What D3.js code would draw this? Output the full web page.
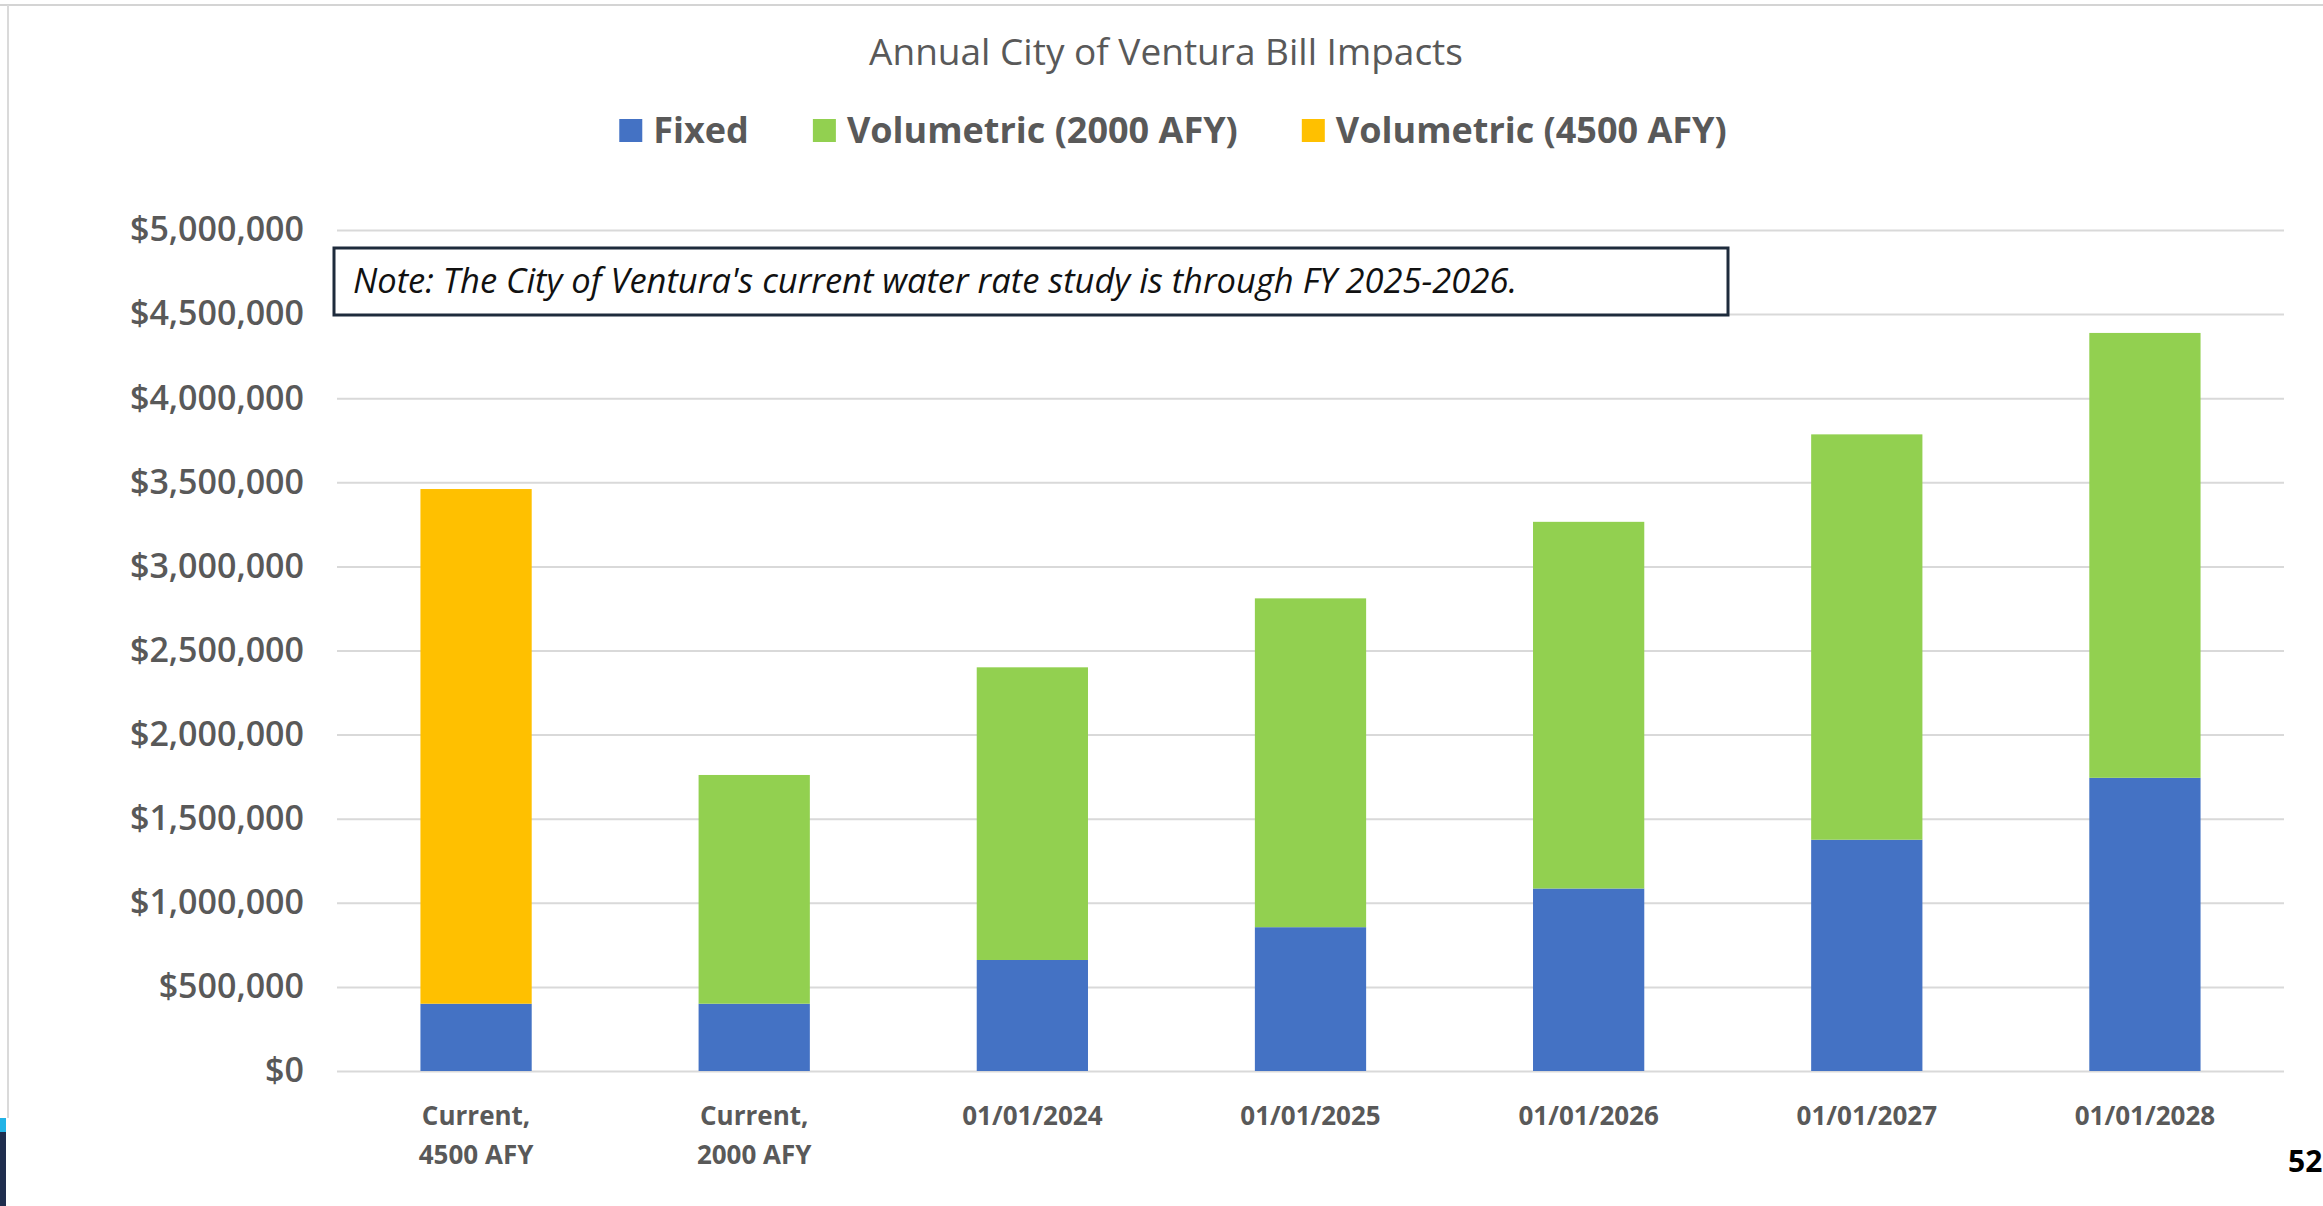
<!DOCTYPE html>
<html>
<head>
<meta charset="utf-8">
<script src="https://cdn.jsdelivr.net/npm/d3@7"></script>
<style>
  body { margin: 0; background: #fff; }
  text { font-family: "Open Sans", sans-serif; }
</style>
</head>
<body>
<script>
var categories = ["Current, 4500 AFY", "Current, 2000 AFY", "01/01/2024", "01/01/2025",
                  "01/01/2026", "01/01/2027", "01/01/2028"];
var fixed   = [400000, 400000, 660000, 855000, 1085000, 1375000, 1743000];
var vol2000 = [0, 1360000, 1740000, 1955000, 2180000, 2410000, 2645000];
var vol4500 = [3060000, 0, 0, 0, 0, 0, 0];
var seriesKeys = ["fixed", "vol2000", "vol4500"];
var seriesNames = ["Fixed", "Volumetric (2000 AFY)", "Volumetric (4500 AFY)"];
var colors = ["#4472C4", "#92D050", "#FFC000"];
var yTicks = [0, 500000, 1000000, 1500000, 2000000, 2500000, 3000000, 3500000, 4000000, 4500000, 5000000];
var noteText = "Note: The City of Ventura's current water rate study is through FY 2025-2026.";

var width = 2323, height = 1206;
var plotLeft = 337, plotRight = 2284, plotTop = 230, plotBottom = 1071;

var svg = d3.select("body").append("svg")
  .attr("width", width)
  .attr("height", height);

// slide frame bits
svg.append("line").attr("x1", 0).attr("x2", width).attr("y1", 5).attr("y2", 5)
  .attr("stroke", "#d4d4d4").attr("stroke-width", 2);
svg.append("line").attr("x1", 8).attr("x2", 8).attr("y1", 5).attr("y2", 1118)
  .attr("stroke", "#dadada").attr("stroke-width", 2);
svg.append("rect").attr("x", 0).attr("y", 1118).attr("width", 6).attr("height", 14).attr("fill", "#22b3e6");
svg.append("rect").attr("x", 0).attr("y", 1132).attr("width", 6).attr("height", 74).attr("fill", "#1f2d4e");

var rows = categories.map(function(c, i) {
  return { cat: c, fixed: fixed[i], vol2000: vol2000[i], vol4500: vol4500[i] };
});
var stacked = d3.stack().keys(seriesKeys)(rows);

var x = d3.scaleBand()
  .domain(categories)
  .range([plotLeft, plotRight])
  .paddingInner(0.6)
  .paddingOuter(0.3);

var y = d3.scaleLinear()
  .domain([0, 5000000])
  .range([plotBottom, plotTop]);

// gridlines
svg.append("g")
  .attr("class", "grid")
  .attr("transform", "translate(" + plotLeft + ",0)")
  .call(d3.axisLeft(y).tickValues(yTicks).tickSize(-(plotRight - plotLeft)).tickFormat(""))
  .call(function(g) { g.select(".domain").remove(); })
  .selectAll("line")
  .attr("stroke", "#d9d9d9")
  .attr("stroke-width", 2);

// y axis labels
svg.append("g")
  .attr("transform", "translate(" + plotLeft + ",0)")
  .call(d3.axisLeft(y).tickValues(yTicks).tickSize(0).tickPadding(33).tickFormat(d3.format("$,")))
  .call(function(g) { g.select(".domain").remove(); })
  .selectAll("text")
  .attr("font-family", "Open Sans")
  .attr("font-size", 34)
  .attr("font-weight", 600)
  .attr("fill", "#595959");

// bars
svg.append("g")
  .selectAll("g")
  .data(stacked)
  .enter()
  .append("g")
  .attr("fill", function(d, i) { return colors[i]; })
  .selectAll("rect")
  .data(function(d) { return d; })
  .enter()
  .append("rect")
  .attr("x", function(d) { return x(d.data.cat); })
  .attr("width", x.bandwidth())
  .attr("y", function(d) { return y(d[1]); })
  .attr("height", function(d) { return y(d[0]) - y(d[1]); });

// x axis labels
var xAxis = svg.append("g")
  .attr("transform", "translate(0," + plotBottom + ")")
  .call(d3.axisBottom(x).tickSize(0).tickFormat(""));
xAxis.select(".domain").remove();
xAxis.selectAll(".tick text").remove();
xAxis.selectAll(".tick").append("text")
  .attr("text-anchor", "middle")
  .attr("font-size", 26)
  .attr("font-weight", 700)
  .attr("fill", "#595959")
  .each(function(d) {
    var parts = d.split(/, /);
    if (parts.length > 1) parts[0] += ",";
    var t = d3.select(this);
    parts.forEach(function(p, i) {
      t.append("tspan").attr("x", 0).attr("y", 54 + i * 39).text(p);
    });
  });

// note box
svg.append("rect")
  .attr("x", 334).attr("y", 248)
  .attr("width", 1394).attr("height", 67)
  .attr("fill", "#fff")
  .attr("stroke", "#1e2b3c")
  .attr("stroke-width", 3);
svg.append("text")
  .attr("x", 353).attr("y", 293)
  .attr("font-size", 34.5)
  .attr("font-style", "italic")
  .attr("fill", "#111")
  .text(noteText);

// title
svg.append("text")
  .attr("x", 1166).attr("y", 65)
  .attr("text-anchor", "middle")
  .attr("font-size", 37)
  .attr("fill", "#595959")
  .text("Annual City of Ventura Bill Impacts");

// legend
var legend = svg.append("g");
var lx = 0;
seriesNames.forEach(function(name, i) {
  var item = legend.append("g").attr("transform", "translate(" + lx + ",0)");
  item.append("rect").attr("x", 0).attr("y", 119).attr("width", 23).attr("height", 23).attr("fill", colors[i]);
  var t = item.append("text").attr("x", 34).attr("y", 143)
    .attr("font-size", 36).attr("font-weight", 700).attr("fill", "#595959").text(name);
  lx += 34 + t.node().getComputedTextLength() + 64;
});
var legendW = lx - 64;
legend.attr("transform", "translate(" + (1173 - legendW / 2) + ",0)");

// page number
svg.append("text")
  .attr("x", 2288).attr("y", 1172)
  .attr("font-family", "Liberation Sans")
  .attr("font-size", 30)
  .attr("font-weight", 700)
  .attr("fill", "#000")
  .text("52");
</script>
</body>
</html>
